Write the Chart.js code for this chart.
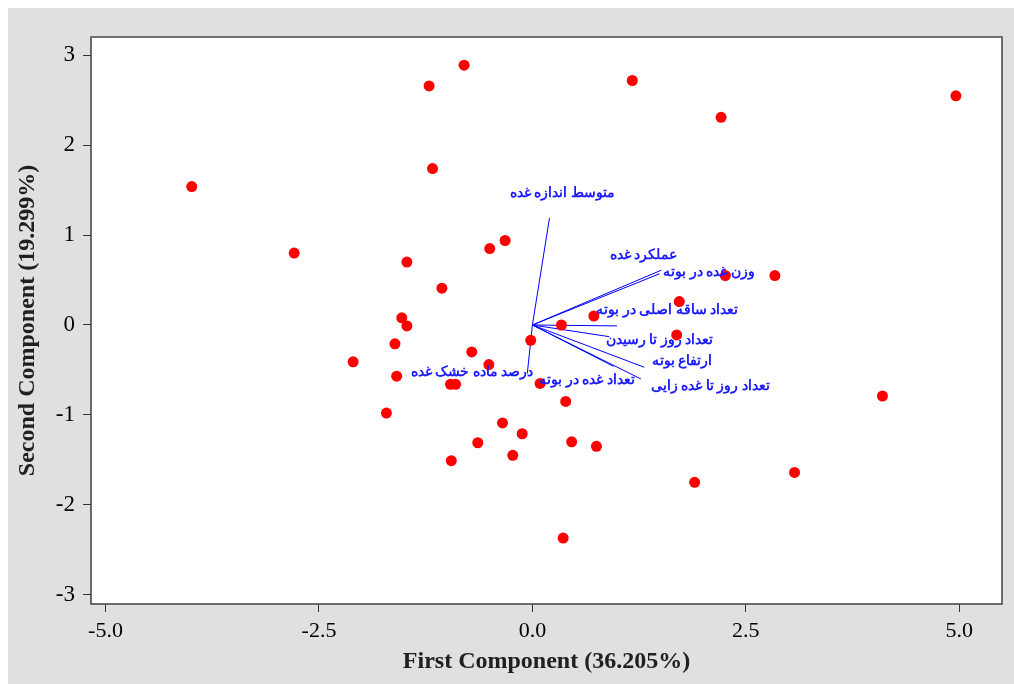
<!DOCTYPE html>
<html>
<head>
<meta charset="utf-8">
<script src="https://cdn.jsdelivr.net/npm/chart.js@4/dist/chart.umd.min.js"></script>
<style>
  html, body { margin: 0; padding: 0; background: #ffffff; }
  #bg { position: absolute; left: 8px; top: 8px; width: 1006px; height: 676px; background: #e0e0e0; }
  #plot { position: absolute; left: 0; top: 0; }
</style>
</head>
<body>
<div id="bg"></div>
<canvas id="plot" width="1014" height="684"></canvas>
<script>
// PCA scores (first / second component)
const scoreX = [-3.99, -2.79, -1.21, -0.80, -1.17, 1.17, 2.21, 4.96, -0.50, -0.32,
                -1.47, -1.06, -1.53, -1.47, 2.26, 2.84, 1.72, 0.72, 0.34, 1.69,
                -0.02, -1.61, -2.10, -0.71, -0.51, -1.59, -0.96, -0.90, 0.09, 0.39,
                -1.71, -0.35, -0.12, -0.64, 0.46, 0.75, -0.95, -0.23, 0.36, 1.90,
                3.07, 4.10];
const scoreY = [1.54, 0.80, 2.66, 2.89, 1.74, 2.72, 2.31, 2.55, 0.85, 0.94,
                0.70, 0.41, 0.08, -0.01, 0.55, 0.55, 0.26, 0.10, 0.00, -0.11,
                -0.17, -0.21, -0.41, -0.30, -0.44, -0.57, -0.66, -0.66, -0.65, -0.85,
                -0.98, -1.09, -1.21, -1.31, -1.30, -1.35, -1.51, -1.45, -2.37, -1.75,
                -1.64, -0.79];

// trait loading vectors
const traitNames = [
  'متوسط اندازه غده',
  'عملکرد غده',
  'وزن غده در بوته',
  'تعداد ساقه اصلی در بوته',
  'تعداد روز تا رسیدن',
  'ارتفاع بوته',
  'تعداد روز تا غده زایی',
  'تعداد غده در بوته',
  'درصد ماده خشک غده'
];
const loadX = [0.20, 1.51, 1.49, 0.99, 0.90, 1.31, 1.27, 0.95, -0.06];
const loadY = [1.19, 0.61, 0.57, -0.01, -0.13, -0.47, -0.60, -0.46, -0.54];
// where each trait name sits (data units, text centre)
const labelX = [0.35, 1.30, 2.07, 1.58, 1.49, 1.75, 2.08, 0.64, -0.71];
const labelY = [1.46, 0.77, 0.59, 0.16, -0.17, -0.40, -0.68, -0.62, -0.53];

const xTicks = [-5, -2.5, 0, 2.5, 5];
const yTicks = [-3, -2, -1, 0, 1, 2, 3];

const BLUE = '#0000ff';

const datasets = traitNames.map((name, i) => ({
  label: name,
  data: [{ x: 0, y: 0 }, { x: loadX[i], y: loadY[i] }],
  showLine: true,
  borderColor: BLUE,
  borderWidth: 1,
  pointRadius: 0,
  order: 2
}));
datasets.push({
  label: 'scores',
  data: scoreX.map((x, i) => ({ x: x, y: scoreY[i] })),
  pointRadius: 5.5,
  pointBackgroundColor: '#ff0000',
  pointBorderWidth: 0,
  order: 1
});

const framePlugin = {
  id: 'frame',
  beforeDraw(chart) {
    const a = chart.chartArea, ctx = chart.ctx;
    ctx.save();
    ctx.fillStyle = '#ffffff';
    ctx.fillRect(a.left, a.top, a.right - a.left, a.bottom - a.top);
    ctx.restore();
  },
  afterDraw(chart) {
    const a = chart.chartArea, ctx = chart.ctx;
    ctx.save();
    ctx.strokeStyle = '#404040';
    ctx.lineWidth = 1.5;
    ctx.strokeRect(a.left, a.top, a.right - a.left, a.bottom - a.top);
    ctx.strokeStyle = '#707070';
    ctx.lineWidth = 2;
    ctx.beginPath();
    ctx.moveTo(a.left, a.top);
    ctx.lineTo(a.right, a.top);
    ctx.stroke();
    ctx.restore();
  }
};

const traitLabels = {
  id: 'traitLabels',
  afterDatasetsDraw(chart) {
    const ctx = chart.ctx, xs = chart.scales.x, ys = chart.scales.y;
    ctx.save();
    ctx.font = 'bold 14px "Liberation Serif", "DejaVu Serif", serif';
    ctx.fillStyle = '#1a1aff';
    ctx.textAlign = 'center';
    ctx.textBaseline = 'middle';
    ctx.direction = 'rtl';
    traitNames.forEach((name, i) => {
      ctx.fillText(name, xs.getPixelForValue(labelX[i]), ys.getPixelForValue(labelY[i]));
    });
    ctx.restore();
  }
};

new Chart(document.getElementById('plot'), {
  type: 'scatter',
  data: { datasets: datasets },
  options: {
    responsive: false,
    animation: false,
    layout: { padding: { top: 37, right: 12, left: 0, bottom: 0 } },
    plugins: { legend: { display: false }, tooltip: { enabled: false } },
    scales: {
      x: {
        min: -5.17,
        max: 5.50,
        afterBuildTicks: s => { s.ticks = xTicks.map(v => ({ value: v })); },
        afterFit: s => { s.height = 80; },
        grid: { drawOnChartArea: false, tickLength: 8, color: '#333', drawTicks: true },
        border: { display: false },
        ticks: {
          color: '#000',
          padding: 6,
          maxRotation: 0,
          font: { family: '"Liberation Serif", serif', size: 22 },
          callback: v => v.toFixed(1)
        },
        title: {
          display: true,
          text: 'First Component (36.205%)',
          color: '#202020',
          padding: { top: 0, bottom: 8 },
          font: { family: '"Liberation Serif", serif', size: 24, weight: 'bold' }
        }
      },
      y: {
        min: -3.104,
        max: 3.204,
        afterBuildTicks: s => { s.ticks = yTicks.map(v => ({ value: v })); },
        afterFit: s => { s.width = 91; },
        grid: { drawOnChartArea: false, tickLength: 8, color: '#333', drawTicks: true },
        border: { display: false },
        ticks: {
          color: '#000',
          padding: 8,
          font: { family: '"Liberation Serif", serif', size: 23 },
          callback: v => String(v)
        },
        title: {
          display: true,
          text: 'Second Component (19.299%)',
          color: '#202020',
          padding: { top: 13, bottom: 0 },
          font: { family: '"Liberation Serif", serif', size: 24, weight: 'bold' }
        }
      }
    }
  },
  plugins: [framePlugin, traitLabels]
});
</script>
</body>
</html>
